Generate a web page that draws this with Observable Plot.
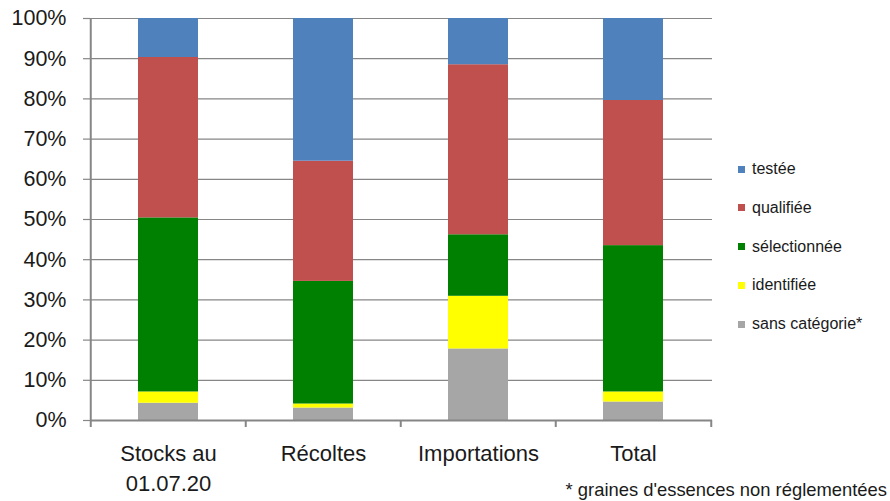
<!DOCTYPE html>
<html><head><meta charset="utf-8">
<script src="https://cdn.jsdelivr.net/npm/d3@7"></script>
<script src="https://cdn.jsdelivr.net/npm/@observablehq/plot@0.6"></script>
<style>
body{margin:0;background:#fff;font-family:"Liberation Sans",Arial,sans-serif;}
#wrap{position:relative;width:890px;height:501px;}
#legend{position:absolute;left:738px;top:0;}
.item{position:absolute;left:0;white-space:nowrap;font-size:16px;color:#1a1a1a;display:flex;align-items:center;height:20px;}
.sw{width:7px;height:7px;margin-right:7px;flex:none;}
#note{position:absolute;right:3px;top:478px;font-size:18.4px;color:#1a1a1a;white-space:nowrap;line-height:24px;}
</style></head><body><div id="wrap"></div>
<script>
const categories = ["Stocks au\n01.07.20", "Récoltes", "Importations", "Total"];
const seriesNames = ["sans catégorie*", "identifiée", "sélectionnée", "qualifiée", "testée"];
const sansCategorie = [4.3, 3.1, 17.8, 4.6];
const identifiee    = [2.8, 1.0, 13.1, 2.5];
const selectionnee  = [43.3, 30.5, 15.3, 36.4];
const qualifiee     = [39.9, 29.9, 42.3, 36.1];
const testee        = [9.7, 35.5, 11.5, 20.4];
const seriesColors  = ["#A6A6A6", "#FFFF00", "#008000", "#C0504D", "#4F81BD"];
const yTicks = [0, 10, 20, 30, 40, 50, 60, 70, 80, 90, 100];
const legendOrder = ["testée", "qualifiée", "sélectionnée", "identifiée", "sans catégorie*"];
const footnote = "* graines d'essences non réglementées";

const valuesBySeries = [sansCategorie, identifiee, selectionnee, qualifiee, testee];
const data = categories.flatMap((c, i) => seriesNames.map((s, j) => ({category: c, series: s, value: valuesBySeries[j][i]})));

const W = 890, H = 501, mL = 90, mR = 178, mT = 18, mB = 81;
const step = (W - mL - mR) / categories.length;
const axisGray = "#868686";

const chart = Plot.plot({
  width: W, height: H,
  marginLeft: mL, marginRight: mR, marginTop: mT, marginBottom: mB,
  style: {fontFamily: "Liberation Sans, Arial, sans-serif", background: "#fff", color: "#1a1a1a"},
  x: {domain: categories, paddingInner: 0.61, paddingOuter: 0.305, label: null},
  y: {domain: [0, 100], label: null},
  color: {domain: seriesNames, range: seriesColors},
  marks: [
    Plot.ruleY(yTicks, {stroke: axisGray, strokeWidth: 1.2}),
    Plot.barY(data, Plot.stackY({x: "category", y: "value", fill: "series", inset: 0})),
    Plot.ruleY([0], {stroke: axisGray, strokeWidth: 2}),
    Plot.ruleX(categories, {x: d => d, dx: -step / 2, y1: 0, y2: 0, insetBottom: -7, stroke: axisGray, strokeWidth: 2}),
    Plot.ruleX([categories[categories.length - 1]], {x: d => d, dx: step / 2, y1: 0, y2: 0, insetBottom: -7, stroke: axisGray, strokeWidth: 2}),
    Plot.ruleX([categories[0]], {x: d => d, dx: -step / 2, y1: 0, y2: 100, stroke: axisGray, strokeWidth: 2}),
    Plot.axisY(yTicks, {tickSize: 7, tickPadding: 17, tickFormat: d => d + "%", fontSize: 21.5, stroke: axisGray, strokeWidth: 1.2, fill: "#1a1a1a", label: null}),
    Plot.axisX({tickSize: 0, tickPadding: 19, fontSize: 22, lineHeight: 1.36, fill: "#1a1a1a", label: null})
  ]
});

const wrap = document.getElementById("wrap");
wrap.appendChild(chart);

const legend = document.createElement("div");
legend.id = "legend";
legendOrder.forEach((name, i) => {
  const item = document.createElement("div");
  item.className = "item";
  item.style.top = (159 + i * 38.8) + "px";
  const sw = document.createElement("span");
  sw.className = "sw";
  sw.style.background = seriesColors[seriesNames.indexOf(name)];
  const t = document.createElement("span");
  t.textContent = name;
  item.appendChild(sw);
  item.appendChild(t);
  legend.appendChild(item);
});
wrap.appendChild(legend);

const note = document.createElement("div");
note.id = "note";
note.textContent = footnote;
wrap.appendChild(note);
</script>
</body></html>
